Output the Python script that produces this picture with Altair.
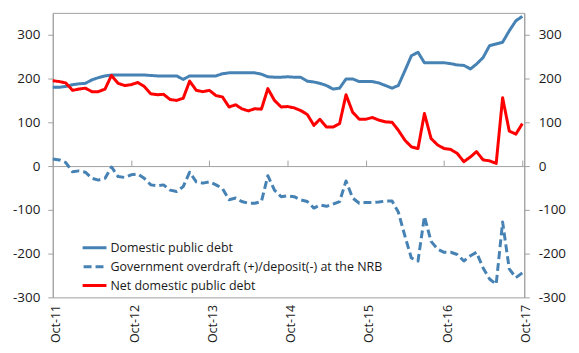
import altair as alt
import pandas as pd

# Monthly observations, Oct-2011 .. Oct-2017 (73 months)
months = pd.date_range("2011-10-01", periods=73, freq="MS").strftime("%Y-%m-%d").tolist()

domestic = [180, 180, 182, 186, 188, 189, 197, 202, 206, 208,
            208, 208, 208, 208, 208, 207, 206, 206, 206, 206,
            198, 206, 206, 206, 206, 206, 211, 213, 213, 213,
            213, 213, 210, 204, 203, 203, 204, 203, 203, 194,
            192, 189, 184, 176, 178, 199, 199, 193, 193, 193,
            190, 184, 178, 184, 218, 252, 260, 236, 236, 236,
            236, 234, 231, 230, 222, 233, 248, 275, 279, 283,
            309, 332, 342]

overdraft = [16, 14, 8, -13, -11, -14, -28, -32, -28, -2,
             -24, -26, -20, -18, -28, -43, -45, -43, -55, -58,
             -47, -14, -36, -39, -36, -43, -51, -77, -73, -81,
             -85, -85, -81, -22, -55, -70, -68, -70, -77, -81,
             -96, -89, -92, -87, -81, -34, -73, -85, -83, -83,
             -82, -80, -80, -105, -160, -210, -217, -115, -172, -190,
             -197, -197, -202, -217, -205, -197, -233, -258, -270, -128,
             -235, -255, -244]

net = [195, 193, 190, 173, 176, 178, 170, 170, 176, 207,
       189, 184, 186, 191, 182, 165, 163, 164, 152, 150,
       155, 194, 173, 170, 173, 161, 158, 135, 140, 131,
       126, 131, 130, 177, 150, 135, 136, 133, 127, 118,
       93, 107, 89, 89, 97, 163, 123, 107, 107, 111,
       105, 101, 100, 82, 59, 44, 40, 120, 63, 48,
       40, 38, 29, 10, 21, 33, 14, 12, 6, 156,
       80, 73, 97]

series_names = ["Domestic public debt",
                "Government overdraft (+)/deposit(-) at the NRB",
                "Net domestic public debt"]
series_colors = ["#4682B4", "#4682B4", "#FF0000"]
series_dashes = [[1, 0], [8, 4], [1, 0]]

y_ticks = [-300, -200, -100, 0, 100, 200, 300]
x_tick_years = [2011, 2012, 2013, 2014, 2015, 2016, 2017]

rows = []
for name, vals in zip(series_names, [domestic, overdraft, net]):
    for m, v in zip(months, vals):
        rows.append({"date": m, "value": v, "series": name})
df = pd.DataFrame(rows)

FONT = "Open Sans"
TXT = "#1a1a1a"
GRAY = "#a0a0a0"
W, H = 474, 286

x_ticks = [alt.DateTime(year=y, month=10, date=1, utc=True) for y in x_tick_years]
x_scale = alt.Scale(type="utc",
                    domain=[alt.DateTime(year=2011, month=10, date=1, utc=True),
                            alt.DateTime(year=2017, month=10, date=10, utc=True)])
y_scale = alt.Scale(domain=[-300, 350], nice=False, zero=False)

legend = alt.Legend(
    title=None, orient="none", legendX=30, legendY=227,
    symbolType="M-3.5,0H3.5", symbolSize=100, symbolStrokeWidth=3,
    clipHeight=18.3, rowPadding=0, padding=0,
    labelFont=FONT, labelFontSize=12.5, labelColor=TXT,
    labelOffset=15, labelLimit=500,
)

lines = alt.Chart(df).mark_line(strokeWidth=3, strokeJoin="round").encode(
    x=alt.X("date:T", scale=x_scale,
            axis=alt.Axis(orient="bottom", values=x_ticks, format="%b-%y",
                          labelAngle=270, labelPadding=7, labelOffset=3,
                          ticks=False, domain=False, grid=False, title=None,
                          labelFont=FONT, labelFontSize=12.5, labelColor=TXT)),
    y=alt.Y("value:Q", scale=y_scale,
            axis=alt.Axis(orient="left", values=y_ticks, grid=False, title=None,
                          labelExpr="'' + datum.value",
                          tickSize=5, tickColor=GRAY, domainColor=GRAY,
                          labelPadding=8, labelFont=FONT, labelFontSize=13.5,
                          labelColor=TXT)),
    color=alt.Color("series:N", sort=series_names,
                    scale=alt.Scale(domain=series_names, range=series_colors),
                    legend=legend),
    strokeDash=alt.StrokeDash("series:N", sort=series_names,
                              scale=alt.Scale(domain=series_names, range=series_dashes),
                              legend=legend),
    order=alt.Order("series:N"),
)

guide = alt.Chart(df).mark_point(opacity=0).encode(
    x=alt.X("date:T", scale=x_scale,
            axis=alt.Axis(orient="top", offset=-round(H * 350 / 650), values=x_ticks,
                          labels=False, ticks=True, tickSize=6, tickColor=GRAY,
                          domain=True, domainColor=GRAY, grid=False, title=None)),
    y=alt.Y("value:Q", scale=y_scale,
            axis=alt.Axis(orient="right", values=y_ticks, grid=False, title=None,
                          labelExpr="'' + datum.value",
                          tickSize=5, tickColor=GRAY, domainColor=GRAY,
                          labelPadding=9, labelFont=FONT, labelFontSize=13.5,
                          labelColor=TXT)),
)

chart = alt.layer(guide, lines).resolve_axis(x="independent", y="independent").properties(
    width=W, height=H,
    padding={"left": 4, "top": 4, "right": 5, "bottom": 5},
).configure_view(stroke=GRAY, strokeWidth=1)

chart.save("out.html", embed_options={"renderer": "svg", "actions": False})
